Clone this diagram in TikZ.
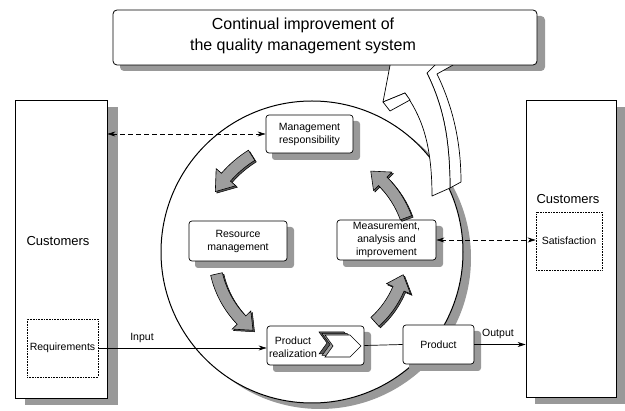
\documentclass[tikz,border=0pt]{standalone}
\usepackage{fontspec}
\setmainfont{Liberation Sans}
\usetikzlibrary{arrows.meta}
\definecolor{shd}{rgb}{0.6,0.6,0.6}
\definecolor{arrfill}{rgb}{0.62,0.62,0.62}
\definecolor{arrdark}{rgb}{0.35,0.35,0.35}
\newcommand{\qarrow}[4]{%
  \begin{scope}[shift={(312,252)}]
    \filldraw[fill=arrdark,draw=black,line width=0.5pt,shift={(1.5,1.5)}]
      ({#1}:{#4+6}) arc[start angle=#1,end angle=#2,radius=#4+6] -- ({#2}:{#4+13}) -- ({#3}:{#4}) -- ({#2}:{#4-13}) -- ({#2}:{#4-6}) arc[start angle=#2,end angle=#1,radius=#4-6] -- cycle;
    \filldraw[fill=arrfill,draw=black,line width=0.6pt]
      ({#1}:{#4+6}) arc[start angle=#1,end angle=#2,radius=#4+6] -- ({#2}:{#4+13}) -- ({#3}:{#4}) -- ({#2}:{#4-13}) -- ({#2}:{#4-6}) arc[start angle=#2,end angle=#1,radius=#4-6] -- cycle;
  \end{scope}}
\begin{document}
\begin{tikzpicture}[x=1pt,y=-1pt,
  pbox/.style={draw,line width=0.7pt,fill=white,rounded corners=3pt,font=\fontsize{10.5}{13}\selectfont,align=center,inner sep=0pt},
  cbox/.style={draw,line width=0.7pt,fill=white,inner sep=0pt},
  dbox/.style={draw,densely dotted,line width=0.6pt,fill=white,inner sep=0pt,font=\fontsize{10.5}{13}\selectfont},
  lab/.style={font=\fontsize{10.5}{13}\selectfont,inner sep=0pt},
  ctext/.style={font=\fontsize{13}{15}\selectfont,inner sep=0pt},
  conn/.style={line width=0.7pt},
  arrowend/.style={-{Stealth[length=8pt,width=5pt]}},
  dtip/.style={{Stealth[length=8pt,width=5pt]}-{Stealth[length=8pt,width=5pt]},dashed,dash pattern=on 5pt off 3pt}
]
\useasboundingbox (0,0) rectangle (625,411);

% side customer boxes (shadows first)
\fill[fill=shd] (25,107) rectangle (118,405);
\fill[fill=shd] (535,107) rectangle (625,404);
\node[cbox,minimum width=92pt,minimum height=298pt] (lc) at (61,249) {};
\node[cbox,minimum width=90pt,minimum height=297pt] (rc) at (571,248.5) {};
\node[ctext] (lct) at (58,241) {Customers};
\node[ctext] (rct) at (568,199) {Customers};
\node[dbox,minimum width=71pt,minimum height=58pt] (req) at (62.5,348) {Requirements};
\node[dbox,minimum width=66pt,minimum height=58pt] (sat) at (569,241) {Satisfaction};

% circle with shadow
\fill[fill=shd] (320,258) circle[radius=151];
\filldraw[fill=white,draw=black,line width=1pt] (312,252) circle[radius=151];

% process box shadows
\fill[fill=shd,rounded corners=3pt] (272,121) rectangle (360,160);
\fill[fill=shd,rounded corners=3pt] (195,227) rectangle (294,268);
\fill[fill=shd,rounded corners=3pt] (343,226) rectangle (443,267);
\fill[fill=shd,rounded corners=3pt] (273,332) rectangle (371,372);
\fill[fill=shd,rounded corners=3pt] (409,331) rectangle (481,371);

% process boxes
\node[pbox,minimum width=87pt,minimum height=38pt] (mr) at (309.5,134) {Management\\responsibility};
\node[pbox,minimum width=98pt,minimum height=40pt] (rm) at (238,241) {Resource\\management};
\node[pbox,minimum width=99pt,minimum height=40pt] (mai) at (386.5,240) {Measurement,\\analysis and\\improvement};
\node[pbox,minimum width=97pt,minimum height=39pt] (pr) at (315.5,345.5) {};
\node[lab,align=center] (prt) at (293,347) {Product\\realization};
\node[pbox,minimum width=71pt,minimum height=39pt] (prod) at (438.5,344.5) {Product};

% chevrons
\filldraw[fill=arrdark,line width=0.5pt,shift={(-6,-3)}] (325,335) -- (350,335) -- (361,346) -- (350,357) -- (325,357) -- (333,346) -- cycle;
\filldraw[fill=arrfill,line width=0.5pt,shift={(-3,-1.5)}] (325,335) -- (350,335) -- (361,346) -- (350,357) -- (325,357) -- (333,346) -- cycle;
\filldraw[fill=white,line width=0.6pt] (325,335) -- (350,335) -- (361,346) -- (350,357) -- (325,357) -- (333,346) -- cycle;

% connectors
\draw[conn,arrowend] (req.east) -- (req.east -| pr.west);
\draw[conn] (pr.east) -- (prod.west);
\draw[conn,arrowend] (prod.east) -- (prod.east -| rc.west);
\draw[conn,dtip] (lc.east |- mr.west) -- (mr.west);
\draw[conn,dtip] (mai.east) -- (mai.east -| sat.west);
\node[lab] (inl) at (142,338) {Input};
\node[lab] (outl) at (498,334) {Output};

% cycle arrows
\qarrow{238}{221}{212}{114}
\qarrow{167}{136}{127}{98}
\qarrow{48}{23}{14}{94}
\qarrow{-20}{-45}{-54}{100}

% top box shadow
\fill[fill=shd,rounded corners=4pt] (120,16) rectangle (545,71);

% big white arrow
\begin{scope}[line width=0.7pt,line join=round]
\filldraw[fill=white] (427,73) -- (443,57) -- (453,65) -- (437,74) .. controls (452,105) and (461,140) .. (461,182) -- (450,188) .. controls (450,130) and (440,100) .. (427,73) -- cycle;
\filldraw[fill=white] (392,55) -- (383,102) -- (405,93) .. controls (420,115) and (432,140) .. (432,196) -- (450,188) .. controls (450,130) and (440,100) .. (427,73) -- (443,57) -- cycle;
\filldraw[fill=white] (383,102) -- (390,111) -- (410,100) -- (405,93) -- cycle;
\end{scope}

% top box
\node[draw,line width=0.8pt,fill=white,rounded corners=4pt,minimum width=424pt,minimum height=55pt] (cib) at (325,37.5) {};
\node[align=center,font=\fontsize{16}{21}\selectfont,inner sep=0pt] (cit) at (303,36) {Continual improvement of\\the quality management system};
\end{tikzpicture}
\end{document}
